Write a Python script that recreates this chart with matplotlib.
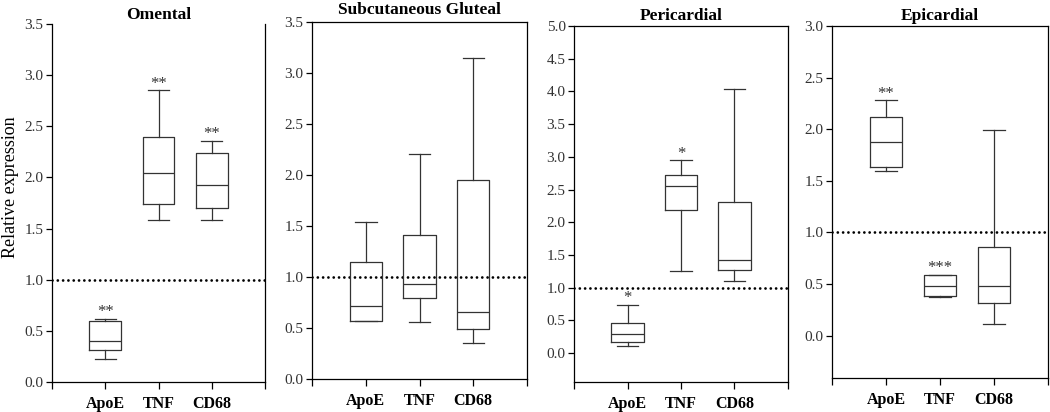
import matplotlib
matplotlib.use("Agg")
import matplotlib.pyplot as plt
from matplotlib.ticker import FormatStrFormatter, MultipleLocator

plt.rcParams['font.family'] = ['Liberation Serif', 'DejaVu Serif']

genes = ["ApoE", "TNF", "CD68"]
titles = ["Omental", "Subcutaneous Gluteal", "Pericardial", "Epicardial"]

# box statistics per panel: [ApoE, TNF, CD68]
whislo = [[0.22, 1.585, 1.585], [0.565, 0.56, 0.35], [0.117, 1.26, 1.10], [1.60, 0.377, 0.113]]
q1 = [[0.31, 1.74, 1.70], [0.572, 0.79, 0.49], [0.168, 2.19, 1.27], [1.63, 0.384, 0.313]]
med = [[0.404, 2.04, 1.93], [0.72, 0.93, 0.657], [0.29, 2.55, 1.43], [1.88, 0.48, 0.484]]
q3 = [[0.594, 2.40, 2.24], [1.147, 1.41, 1.95], [0.454, 2.73, 2.31], [2.12, 0.584, 0.86]]
whishi = [[0.62, 2.85, 2.36], [1.54, 2.21, 3.15], [0.74, 2.95, 4.04], [2.28, 0.59, 1.99]]
stars = [["**", "**", "**"], ["", "", ""], ["*", "*", ""], ["**", "***", ""]]

ylims = [(0, 3.5), (0, 3.5), (-0.44, 5.0), (-0.41, 3.0)]
# axes boxes in pixels: left, right, top, bottom
boxes_px = [(52, 265, 24, 382), (312, 527, 22, 379), (574, 788, 26, 382), (832, 1048, 26, 378)]
title_pads = [3.5, 5.5, 4, 4]

W, H = 1050, 412
fig = plt.figure(figsize=(W / 100, H / 100), dpi=100)

for p in range(4):
    l, r, t, b = boxes_px[p]
    ax = fig.add_axes([l / W, (H - b) / H, (r - l) / W, (b - t) / H])
    stats = []
    for i, g in enumerate(genes):
        stats.append(dict(label=g, whislo=whislo[p][i], q1=q1[p][i], med=med[p][i],
                          q3=q3[p][i], whishi=whishi[p][i], fliers=[]))
    ax.bxp(stats, positions=[1, 2, 3], widths=0.6, showfliers=False,
           boxprops=dict(color='#333333', lw=0.9),
           medianprops=dict(color='#333333', lw=0.9),
           whiskerprops=dict(color='#333333', lw=0.9),
           capprops=dict(color='#333333', lw=0.9),
           capwidths=0.4)
    for i in range(3):
        if stars[p][i]:
            ax.annotate(stars[p][i], (i + 1, whishi[p][i]), xytext=(0, -1),
                        textcoords='offset points', ha='center', va='bottom',
                        fontsize=12, color='#333333')
    # reference level: dotted line at 1.0
    ax.axhline(1.0, color='black', lw=2, linestyle=(0, (0.01, 1.9)),
               dash_capstyle='round', zorder=0)
    ax.set_xlim(0, 4)
    ax.set_ylim(*ylims[p])
    ax.yaxis.set_major_locator(MultipleLocator(0.5))
    ax.yaxis.set_major_formatter(FormatStrFormatter('%.1f'))
    ax.set_yticks([v for v in ax.get_yticks() if v >= -1e-9 and v <= ylims[p][1] + 1e-9])
    ax.set_xticks([0, 1, 2, 3, 4])
    ax.set_xticklabels([''] + genes + [''], fontweight='bold', fontsize=11.5)
    ax.tick_params(axis='x', direction='out', length=5, width=0.9, pad=5)
    ax.tick_params(axis='y', direction='out', length=4, width=0.9, labelsize=11, pad=2,
                   labelcolor='#333333')
    for s in ax.spines.values():
        s.set_linewidth(0.9)
    if p == 0:
        ax.spines['top'].set_visible(False)
    ax.set_title(titles[p], fontweight='bold', fontsize=12.5, pad=title_pads[p])

fig.text(11 / W, (H - 187) / H, "Relative expression", rotation=90,
         ha='center', va='center', fontsize=13)

fig.savefig("out.png", dpi=100)
